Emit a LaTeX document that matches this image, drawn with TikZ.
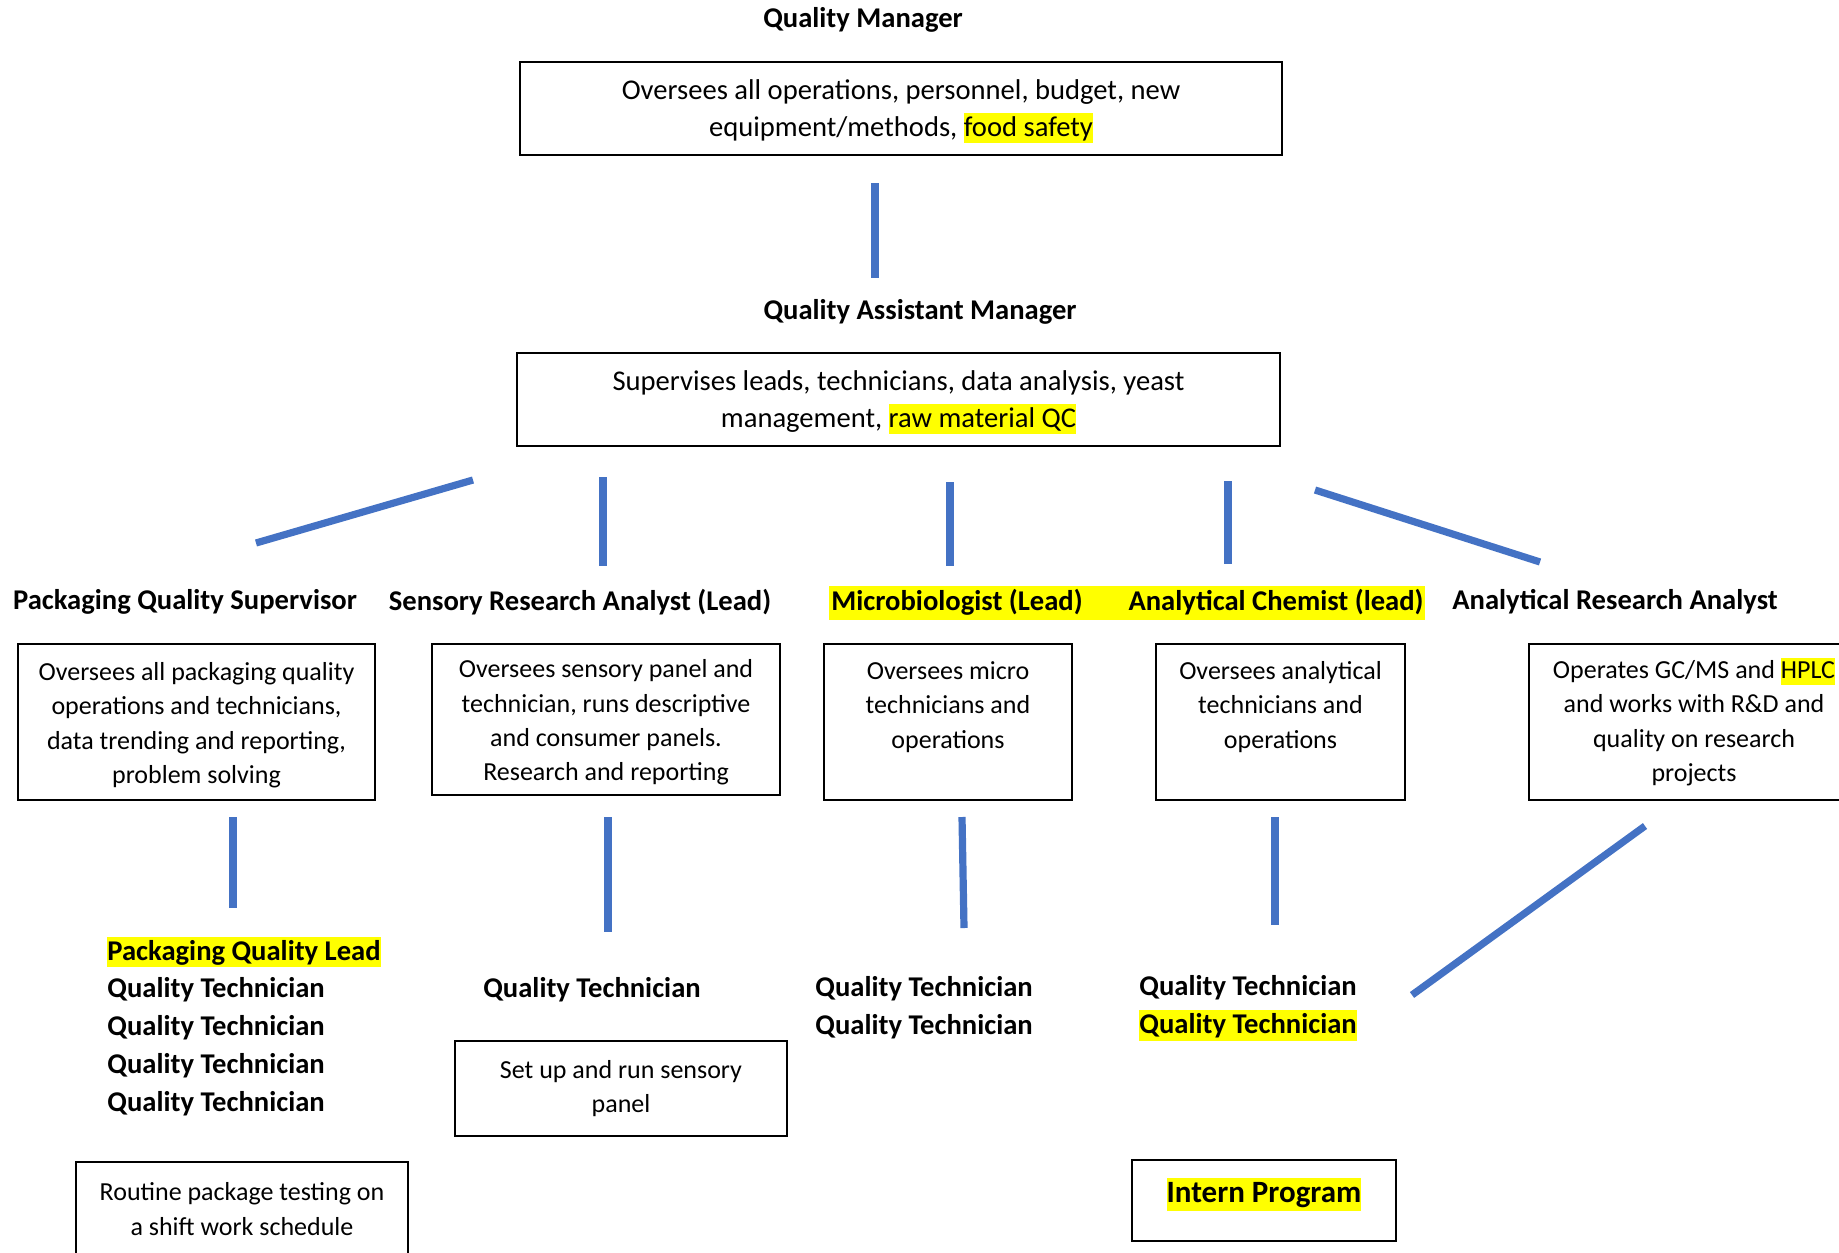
\documentclass[tikz,border=0pt]{standalone}
\usepackage{fontspec}
\setmainfont{Carlito}
\definecolor{lineblue}{RGB}{68,114,196}
\definecolor{hly}{RGB}{255,255,0}
\newcommand\hlt[1]{{\setlength{\fboxsep}{0pt}\colorbox{hly}{\vrule height 0.8em depth 0.25em width 0pt #1}}}
\begin{document}
\begin{tikzpicture}[x=0.5pt,y=-0.5pt,
  title/.style={inner sep=0pt, font=\fontsize{14.3}{17}\selectfont\bfseries},
  bigbox/.style={draw, line width=1pt, align=center, inner sep=0pt, font=\fontsize{14.3}{18.3}\selectfont},
  box/.style={draw, line width=1pt, align=center, inner sep=0pt, font=\fontsize{13}{17.2}\selectfont},
  staff/.style={inner sep=0pt, align=left, anchor=west, font=\fontsize{14.3}{18.9}\selectfont\bfseries},
  conn/.style={line width=3.6pt, color=lineblue}]
\useasboundingbox (0,0) rectangle (1839,1252);
\clip (0,0) rectangle (1839,1252);

% Level 1
\node[title] (qm) at (863,20) {Quality Manager};
\node[bigbox, minimum width=381pt, minimum height=46.5pt] (qmbox) at (901,108.5)
  {\strut Oversees all operations, personnel, budget, new\\equipment/methods, \hlt{food safety}};

% Level 1.5
\node[title] (qam) at (920,312) {Quality Assistant Manager};
\node[bigbox, minimum width=381.5pt, minimum height=46.5pt] (qambox) at (898.5,399.5)
  {\strut Supervises leads, technicians, data analysis, yeast\\management, \hlt{raw material QC}};

% Level 2 titles
\fill[hly] (829,586) rectangle (1425,620);
\node[title] (t1) at (185,602) {Packaging Quality Supervisor};
\node[title] (t2) at (580,602) {Sensory Research Analyst (Lead)};
\node[title] (t3) at (957,602) {Microbiologist (Lead)};
\node[title] (t4) at (1276,602) {Analytical Chemist (lead)};
\node[title] (t5) at (1615,602) {Analytical Research Analyst};

% Level 2 boxes
\node[box, minimum width=178.5pt, minimum height=78pt] (b1) at (196.5,722)
  {\strut Oversees all packaging quality\\operations and technicians,\\data trending and reporting,\\problem solving};
\node[box, minimum width=174pt, minimum height=75.5pt] (b2) at (606,719.5)
  {\strut Oversees sensory panel and\\technician, runs descriptive\\and consumer panels.\\Research and reporting};
\node[box, minimum width=124pt, minimum height=78pt] (b3) at (948,722)
  {Oversees micro\\technicians and\\operations\\\mbox{}};
\node[box, minimum width=124.5pt, minimum height=78pt] (b4) at (1280.5,722)
  {Oversees analytical\\technicians and\\operations\\\mbox{}};
\node[box, minimum width=165pt, minimum height=78pt] (b5) at (1694,722)
  {Operates GC/MS and \hlt{HPLC}\\and works with R\&D and\\quality on research\\projects};

% Level 3
\node[staff] (s1) at (107,1026.5)
  {\hlt{Packaging Quality Lead}\\Quality Technician\\Quality Technician\\Quality Technician\\Quality Technician};
\node[title] (s2) at (592,990) {Quality Technician};
\node[staff] (s3) at (815,1008) {Quality Technician\\Quality Technician};
\node[staff] (s4) at (1139,1008) {Quality Technician\\\hlt{Quality Technician}};

\node[box, minimum width=166pt, minimum height=47.5pt] (sens) at (621,1088.5)
  {Set up and run sensory\\panel};
\node[box, minimum width=166pt, minimum height=47pt] (rout) at (242,1209)
  {Routine package testing on\\a shift work schedule};
\node[box, minimum width=132pt, minimum height=40.5pt, font=\fontsize{15.5}{19}\selectfont\bfseries] (intern) at (1264,1200.5)
  {\raisebox{10pt}{\hlt{Intern Program}}};

% Connector end points
\coordinate (c0a) at (875,183);  \coordinate (c0b) at (875,278);
\coordinate (c1a) at (473,480);  \coordinate (c1b) at (256,543);
\coordinate (c2a) at (603,477);  \coordinate (c2b) at (603,566);
\coordinate (c3a) at (950,482);  \coordinate (c3b) at (950,566);
\coordinate (c4a) at (1228,481); \coordinate (c4b) at (1228,564);
\coordinate (c5a) at (1315,490); \coordinate (c5b) at (1540,562);
\coordinate (c6a) at (233,817);  \coordinate (c6b) at (233,908);
\coordinate (c7a) at (608,817);  \coordinate (c7b) at (608,932);
\coordinate (c8a) at (962,817);  \coordinate (c8b) at (964,928);
\coordinate (c9a) at (1275,817); \coordinate (c9b) at (1275,925);
\coordinate (c10a) at (1645,826); \coordinate (c10b) at (1412,995);

\draw[conn] (c0a) -- (c0b);
\draw[conn] (c1a) -- (c1b);
\draw[conn] (c2a) -- (c2b);
\draw[conn] (c3a) -- (c3b);
\draw[conn] (c4a) -- (c4b);
\draw[conn] (c5a) -- (c5b);
\draw[conn] (c6a) -- (c6b);
\draw[conn] (c7a) -- (c7b);
\draw[conn] (c8a) -- (c8b);
\draw[conn] (c9a) -- (c9b);
\draw[conn] (c10a) -- (c10b);
\end{tikzpicture}
\end{document}
